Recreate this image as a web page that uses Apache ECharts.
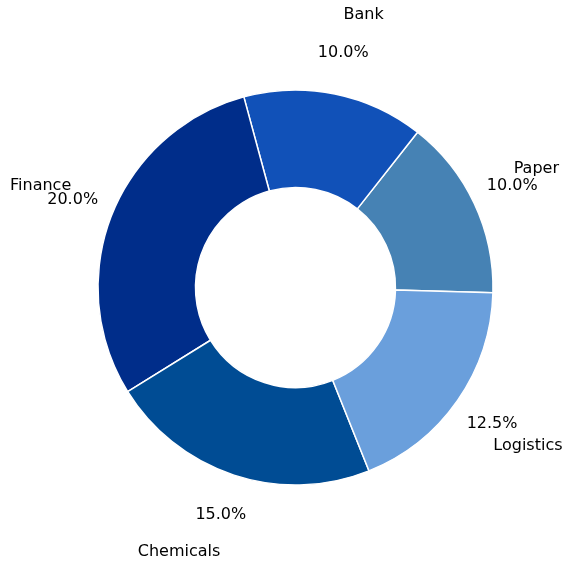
<!DOCTYPE html>
<html>
<head>
<meta charset="utf-8">
<script src="https://cdn.jsdelivr.net/npm/echarts@6/dist/echarts.min.js"></script>
<style>
html,body{margin:0;padding:0;background:#fff;}
#chart{width:563px;height:563px;}
</style>
</head>
<body>
<div id="chart"></div>
<script>
const categories = ['Paper', 'Bank', 'Finance', 'Chemicals', 'Logistics'];
const values = [10, 10, 20, 15, 12.5];
const colors = ['#4682B4', '#1151B8', '#002D8A', '#004C94', '#6A9FDC'];

const CX = 295.5, CY = 287.5;
const FONT = 'DejaVu Sans';

const pieData = categories.map((c, i) => ({ name: c, value: values[i] }));

const chart = echarts.init(document.getElementById('chart'), null, { renderer: 'canvas' });
chart.setOption({
  animation: false,
  backgroundColor: '#ffffff',
  color: colors,
  series: [
    {
      type: 'pie',
      center: [CX, CY],
      radius: [100, 197.5],
      startAngle: -1.5,
      clockwise: false,
      avoidLabelOverlap: false,
      data: pieData,
      itemStyle: { borderColor: '#ffffff', borderWidth: 1.5 },
      label: {
        show: true,
        position: 'outside',
        formatter: '{b}',
        fontFamily: FONT,
        fontSize: 16,
        color: '#000000',
        distanceToLabelLine: 0
      },
      labelLine: { show: false, length: 80.5, length2: 0 },
      labelLayout: function (p) {
        const r = p.labelRect;
        const anchorX = p.align === 'right' ? r.x + r.width : r.x;
        return { dx: -0.133 * (anchorX - CX) };
      },
      emphasis: { disabled: true }
    },
    {
      type: 'pie',
      center: [CX, CY],
      radius: [226.5, 246.5],
      startAngle: -1.5,
      clockwise: false,
      avoidLabelOverlap: false,
      silent: true,
      data: pieData,
      itemStyle: { color: 'rgba(0,0,0,0)', borderWidth: 0 },
      label: {
        show: true,
        position: 'inside',
        formatter: function (p) { return p.value.toFixed(1) + '%'; },
        fontFamily: FONT,
        fontSize: 16,
        color: '#000000'
      },
      labelLine: { show: false },
      emphasis: { disabled: true }
    }
  ]
});
</script>
</body>
</html>
